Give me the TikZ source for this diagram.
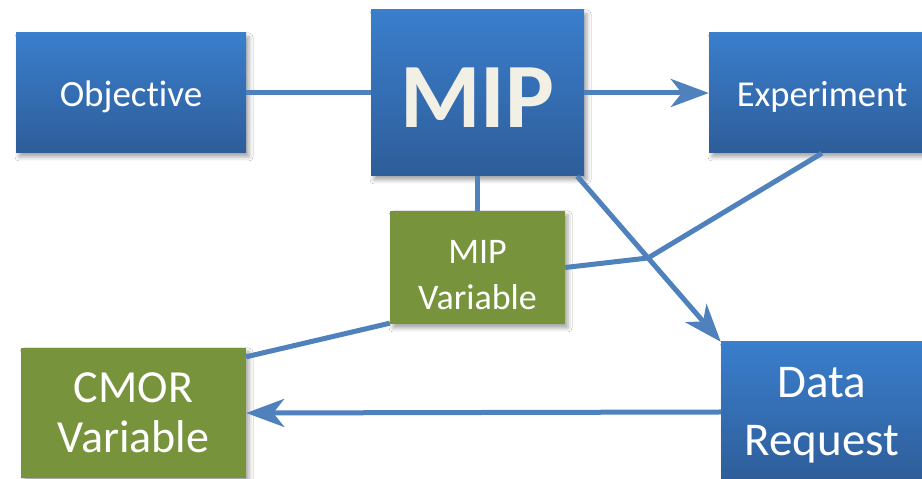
\documentclass[tikz,border=0pt]{standalone}
\usepackage{fontspec}
\setmainfont{Carlito}[Ligatures=NoCommon]
\usetikzlibrary{arrows.meta,shadows.blur}
\definecolor{lineblue}{RGB}{79,129,189}
\definecolor{topblue}{RGB}{58,126,204}
\definecolor{botblue}{RGB}{46,93,153}
\definecolor{olivebox}{RGB}{119,147,60}
\definecolor{tanmip}{RGB}{242,239,228}
\begin{document}
\begin{tikzpicture}[x=1pt,y=1pt,
  boxshadow/.style={blur shadow={shadow xshift=3pt,shadow yshift=-4pt,shadow blur radius=4pt,shadow opacity=35}},
  bluebox/.style={top color=topblue,bottom color=botblue,draw=none,text=white,align=center,inner sep=0pt,boxshadow},
  greenbox/.style={fill=olivebox,draw=none,text=white,align=center,inner sep=0pt,boxshadow},
  conn/.style={draw=lineblue,line width=5pt},
  arr/.style={conn,-{Stealth[length=38pt,width=28pt,inset=11pt]}}
]
\useasboundingbox (0,0) rectangle (922,479);
\clip (0,0) rectangle (922,479);
\fill[white] (0,0) rectangle (922,479);

\node[bluebox,minimum width=230pt,minimum height=120pt,text height=27pt,text depth=0pt,font=\fontsize{37}{44}\selectfont] (obj) at (131,386) {Objective};
\node[bluebox,minimum width=213pt,minimum height=166pt,text height=70pt,text depth=0pt,text=tanmip,font=\fontsize{92}{100}\selectfont\bfseries] (mip) at (477.5,386) {MIP};
\node[bluebox,minimum width=226pt,minimum height=120pt,text height=27pt,text depth=0pt,font=\fontsize{36.5}{44}\selectfont] (exp) at (822,386) {Experiment};
\node[greenbox,minimum width=175pt,minimum height=113pt,font=\fontsize{36}{46}\selectfont] (mipvar) at (477.5,211.5) {\rule{0pt}{38pt}MIP\\Variable};
\node[greenbox,minimum width=225pt,minimum height=130pt,font=\fontsize{46}{50}\selectfont] (cmor) at (133.5,66) {CMOR\\Variable};
\node[bluebox,minimum width=202pt,minimum height=140pt,font=\fontsize{47}{58}\selectfont] (dr) at (822,67) {Data\\Re\smash{q}uest};

\coordinate (bend) at (648,221);

\draw[conn] (obj.east) -- (mip.west);
\draw[arr] (mip.east) -- (exp.west);
\draw[conn] (mip.south) -- (mipvar.north);
\draw[arr] ([xshift=-7pt]mip.south east) -- (dr.north west);
\draw[conn,line join=round] (exp.south) -- (bend) -- (mipvar.east);
\draw[conn] ([yshift=1pt]mipvar.south west) -- ([yshift=-9pt]cmor.north east);
\draw[arr] (dr.west) -- (cmor.east);
\end{tikzpicture}
\end{document}
